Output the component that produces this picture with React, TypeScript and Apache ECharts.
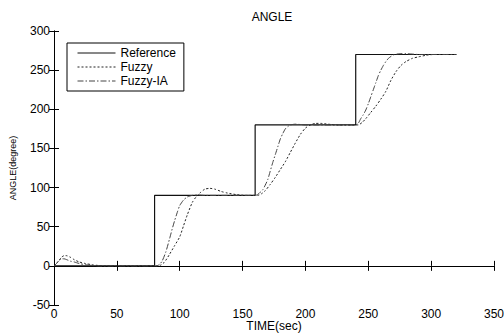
import React, { useEffect, useRef } from "react";
import * as echarts from "echarts";

const xTicks = [0, 50, 100, 150, 200, 250, 300, 350];
const yTicks = [-50, 0, 50, 100, 150, 200, 250, 300];

const refTime = [0, 80, 80, 160, 160, 240, 240, 320];
const refAngle = [0, 0, 90, 90, 180, 180, 270, 270];

const fuzzyTime = [
  0, 2, 4, 6, 8, 10, 13, 16, 20, 25, 30, 35, 40, 50, 60, 70, 80,
  82, 85, 88, 92, 96, 100, 103, 106, 110, 113, 116, 120, 124, 128, 133, 138, 145, 152, 160,
  162, 165, 168, 172, 176, 180, 184, 188, 192, 196, 200, 204, 208, 212, 218, 225, 232, 240,
  242, 245, 248, 252, 256, 260, 264, 268, 272, 276, 280, 285, 290, 296, 302, 310, 320,
];
const fuzzyAngle = [
  0, 3, 7, 11, 13, 13, 11, 8, 5, 3, 1.5, 0.5, 0, 0, 0, 0, 0,
  0, 1, 5, 15, 26, 37, 51, 65, 81, 88, 93, 98, 99, 98, 95, 93, 91, 90, 90,
  90, 92, 96, 104, 113, 123, 133, 145, 157, 168, 176, 180, 182, 182, 181, 180, 180, 180,
  180, 183, 188, 196, 204, 213, 223, 237, 248, 256, 261, 265, 267, 269, 270, 270, 270,
];

const iaTime = [
  0, 2, 4, 6, 8, 10, 13, 16, 20, 25, 30, 35, 80,
  82, 84, 86, 89, 92, 94, 96, 98, 100, 103, 106, 110, 115, 120, 160,
  162, 164, 166, 168, 170, 172, 174, 176, 178, 180, 182, 184, 186, 188, 192, 200, 240,
  242, 244, 246, 248, 250, 252, 254, 256, 258, 260, 262, 264, 266, 268, 270, 275, 280, 290, 320,
];
const iaAngle = [
  0, 3, 7, 9, 9, 8, 6, 5, 3, 1.5, 0.5, 0, 0,
  0, 2, 6, 18, 35, 47, 58, 68, 77, 84, 88, 90, 90.5, 90, 90,
  91, 94, 97, 103, 110, 121, 132, 142, 152, 162, 169, 175, 178, 180, 181, 180, 180,
  182, 188, 193, 199, 207, 216, 225, 234, 243, 250, 256, 261, 265, 267.5, 269.5, 271, 271, 270, 270,
];

const pairs = (t: number[], v: number[]) => t.map((x, i) => [x, v[i]]);

const FONT = "'Liberation Sans', Arial, Helvetica, sans-serif";

export default function App() {
  const ref = useRef<HTMLDivElement>(null);
  useEffect(() => {
    document.body.style.margin = "0";
    const chart = echarts.init(ref.current!, null, { renderer: "svg" });
    const axisLine = { show: true, lineStyle: { color: "#000", width: 1 } };
    const tick = { show: true, inside: true, length: 5, lineStyle: { color: "#000" } };
    chart.setOption({
      animation: false,
      backgroundColor: "#fff",
      textStyle: { fontFamily: FONT },
      grid: { left: 54, right: 10, top: 31, bottom: 29, outerBoundsMode: "none" },
      graphic: [
        {
          type: "text",
          x: 272,
          y: 17,
          style: {
            text: "ANGLE",
            align: "center",
            verticalAlign: "middle",
            fontSize: 12,
            fontFamily: FONT,
            fill: "#000",
          },
        },
      ],
      legend: {
        orient: "vertical",
        left: 67,
        top: 43,
        padding: [4, 8, 4, 10],
        itemGap: 2,
        itemWidth: 38,
        itemHeight: 12,
        borderColor: "#000",
        borderWidth: 1,
        backgroundColor: "#fff",
        itemStyle: { opacity: 0, borderWidth: 0 },
        lineStyle: { width: 1 },
        textStyle: { fontSize: 12, color: "#000", fontFamily: FONT },
        data: ["Reference", "Fuzzy", "Fuzzy-IA"],
      },
      xAxis: [
        {
          type: "value",
          min: xTicks[0],
          max: xTicks[xTicks.length - 1],
          interval: 50,
          position: "bottom",
          axisLine,
          axisTick: tick,
          splitLine: { show: false },
          axisLabel: { fontSize: 12, color: "#000", margin: 3, fontFamily: FONT },
          name: "TIME(sec)",
          nameLocation: "middle",
          nameGap: 15,
          nameMoveOverlap: false,
          nameTextStyle: { fontSize: 12, color: "#000", fontFamily: FONT },
        },
        {
          type: "value",
          min: xTicks[0],
          max: xTicks[xTicks.length - 1],
          interval: 50,
          position: "top",
          axisLine,
          axisTick: tick,
          splitLine: { show: false },
          axisLabel: { show: false },
        },
      ],
      yAxis: [
        {
          type: "value",
          min: yTicks[0],
          max: yTicks[yTicks.length - 1],
          interval: 50,
          position: "left",
          axisLine,
          axisTick: tick,
          splitLine: { show: false },
          axisLabel: { fontSize: 12, color: "#000", margin: 4, fontFamily: FONT },
          name: "ANGLE(degree)",
          nameLocation: "middle",
          nameGap: 37,
          nameRotate: 90,
          nameMoveOverlap: false,
          nameTextStyle: { fontSize: 9, color: "#000", fontFamily: FONT },
        },
        {
          type: "value",
          min: yTicks[0],
          max: yTicks[yTicks.length - 1],
          interval: 50,
          position: "right",
          axisLine,
          axisTick: tick,
          splitLine: { show: false },
          axisLabel: { show: false },
        },
      ],
      series: [
        {
          name: "Reference",
          type: "line",
          data: pairs(refTime, refAngle),
          symbol: "none",
          lineStyle: { color: "#111", width: 1.2, type: "solid" },
          itemStyle: { color: "#111" },
        },
        {
          name: "Fuzzy",
          type: "line",
          data: pairs(fuzzyTime, fuzzyAngle),
          symbol: "none",
          smooth: 0.2,
          lineStyle: { color: "#222", width: 1, type: [2, 2] },
          itemStyle: { color: "#222" },
        },
        {
          name: "Fuzzy-IA",
          type: "line",
          data: pairs(iaTime, iaAngle),
          symbol: "none",
          smooth: 0.2,
          lineStyle: { color: "#444", width: 1, type: [6, 2, 1.5, 2] },
          itemStyle: { color: "#444" },
        },
      ],
    });
    return () => chart.dispose();
  }, []);
  return <div ref={ref} style={{ width: 504, height: 334 }} />;
}
